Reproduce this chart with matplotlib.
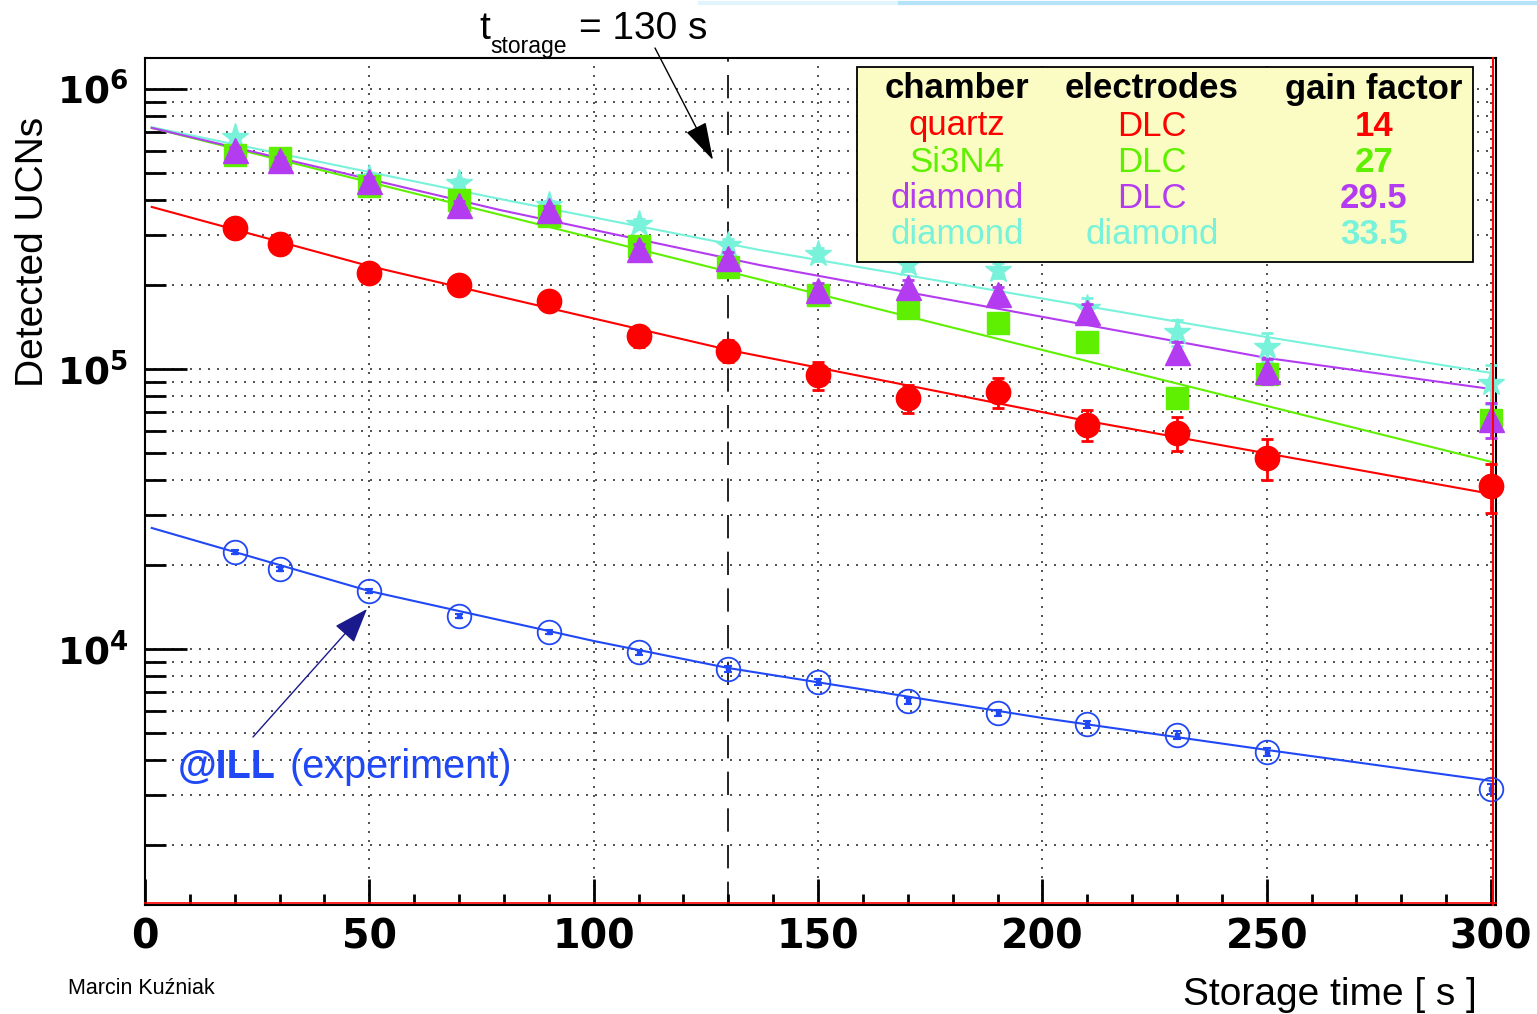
import matplotlib
matplotlib.use("Agg")
import matplotlib.pyplot as plt
from matplotlib.patches import Rectangle
from matplotlib.lines import Line2D
from matplotlib.ticker import LogLocator, NullFormatter, MultipleLocator

plt.rcParams['mathtext.fontset'] = 'dejavusans'

W, H = 1537, 1014

# storage times [s]
t = [20, 30, 50, 70, 90, 110, 130, 150, 170, 190, 210, 230, 250, 300]
t_cyan = [20, 50, 70, 90, 110, 130, 150, 170, 190, 210, 230, 250, 300]

# detected UCNs
quartz = [3.19e5, 2.79e5, 2.20e5, 2.00e5, 1.75e5, 1.31e5, 1.16e5, 9.5e4, 7.88e4, 8.27e4, 6.31e4, 5.91e4, 4.81e4, 3.82e4]
quartz_err = [8e3, 8e3, 9e3, 1.0e4, 1.0e4, 1.1e4, 1.05e4, 1.1e4, 9e3, 1.0e4, 8e3, 8e3, 8e3, 7.5e3]
si3n4 = [5.81e5, 5.67e5, 4.51e5, 4.02e5, 3.52e5, 2.75e5, 2.31e5, 1.84e5, 1.65e5, 1.46e5, 1.25e5, 7.87e4, 9.6e4, 6.58e4]
si3n4_err = [1.5e4, 1.5e4, 1.3e4, 1.2e4, 1.1e4, 9e3, 8e3, 7e3, 6e3, 6e3, 5e3, 4e3, 4e3, 3e3]
diamond_dlc = [6.05e5, 5.57e5, 4.69e5, 3.85e5, 3.70e5, 2.68e5, 2.49e5, 1.91e5, 1.96e5, 1.85e5, 1.60e5, 1.15e5, 9.84e4, 6.62e4]
diamond_dlc_err = [1.5e4, 1.5e4, 1.4e4, 1.3e4, 1.3e4, 1.2e4, 1.2e4, 1.1e4, 1.1e4, 1.1e4, 1.1e4, 1.0e4, 1.0e4, 9.5e3]
diamond_dia = [6.74e5, 4.81e5, 4.62e5, 3.85e5, 3.30e5, 2.77e5, 2.57e5, 2.37e5, 2.26e5, 1.65e5, 1.35e5, 1.20e5, 8.91e4]
diamond_dia_err = [1.6e4, 1.5e4, 1.5e4, 1.4e4, 1.4e4, 1.4e4, 1.4e4, 1.4e4, 1.4e4, 1.4e4, 1.4e4, 1.4e4, 1.4e4]
ill = [2.22e4, 1.93e4, 1.61e4, 1.31e4, 1.15e4, 9.75e3, 8.49e3, 7.63e3, 6.52e3, 5.91e3, 5.39e3, 4.93e3, 4.29e3, 3.16e3]
ill_err = [300, 300, 250, 230, 220, 200, 190, 180, 170, 160, 150, 150, 140, 130]

# fit curves
fit_t_red = [1.5, 50, 130, 210, 300]
fit_red = [3.79e5, 2.33e5, 1.17e5, 6.52e4, 3.58e4]
fit_t_green = [1.5, 300]
fit_green = [7.26e5, 4.66e4]
fit_t_purple = [1.5, 79, 137, 250, 300]
fit_purple = [7.26e5, 3.70e5, 2.35e5, 1.095e5, 8.48e4]
fit_t_cyan = [1.5, 79, 137, 250, 300]
fit_cyan = [7.3e5, 4.05e5, 2.66e5, 1.30e5, 9.68e4]
fit_t_blue = [1.5, 20, 50, 100, 130, 200, 250, 300]
fit_blue = [2.705e4, 2.22e4, 1.61e4, 1.068e4, 8.55e3, 5.67e3, 4.36e3, 3.38e3]

# legend table
chambers = ["quartz", "Si3N4", "diamond", "diamond"]
electrodes = ["DLC", "DLC", "DLC", "diamond"]
gains = ["14", "27", "29.5", "33.5"]

red = "#ff0000"
green = "#5ef000"
purple = "#b43cf0"
cyan = "#78f2da"
blue = "#2048f5"

fig = plt.figure(figsize=(W / 100, H / 100), dpi=100)
ax = fig.add_axes([145 / W, 109 / H, 1351 / W, 847 / H])
ax.set_yscale("log")
ax.set_xlim(0, 301.1)
ax.set_ylim(1218, 1.29e6)

# grid
dots = (0, (1.2, 4.2))
ax.grid(True, axis="y", which="both", color="#333333", lw=1.2, linestyle=dots)
ax.grid(True, axis="x", which="major", color="#333333", lw=1.2, linestyle=dots)

ax.axvline(130, color="black", lw=1.2, linestyle=(0, (14, 8)), zorder=2)

# fit lines
ax.plot(fit_t_cyan, fit_cyan, color=cyan, lw=1.5, zorder=3)
ax.plot(fit_t_green, fit_green, color=green, lw=1.5, zorder=3)
ax.plot(fit_t_purple, fit_purple, color=purple, lw=1.5, zorder=3)
ax.plot(fit_t_red, fit_red, color=red, lw=1.5, zorder=3)
ax.plot(fit_t_blue, fit_blue, color=blue, lw=1.5, zorder=3)

# data points
sets = [
    (t_cyan, diamond_dia, diamond_dia_err, "*", 20, cyan, 4),
    (t, si3n4, si3n4_err, "s", 16, green, 5),
    (t, diamond_dlc, diamond_dlc_err, "^", 18, purple, 6),
    (t, quartz, quartz_err, "o", 17.5, red, 7),
]
for xs, ys, es, mk, ms, col, z in sets:
    c = ax.errorbar(xs, ys, yerr=es, fmt=mk, ms=ms, color=col,
                    elinewidth=2, capsize=4, capthick=2, zorder=z)
    for art in c.get_children():
        art.set_clip_on(False)

ax.plot(t, ill, "o", mfc="none", mec=blue, ms=17, mew=1.3, zorder=6, clip_on=False)
c = ax.errorbar(t, ill, yerr=ill_err, fmt="s", ms=3.5, color=blue,
                elinewidth=1.5, capsize=3, capthick=1.5, zorder=6)
for art in c.get_children():
    art.set_clip_on(False)

# ticks
ax.set_xticks([0, 50, 100, 150, 200, 250, 300])
ax.set_xticklabels(["0", "50", "100", "150", "200", "250", "300"],
                   fontsize=28.5, fontweight="bold", family="DejaVu Sans")
ax.xaxis.set_minor_locator(MultipleLocator(10))
ax.set_yticks([1e4, 1e5, 1e6])
ax.set_yticklabels([r"$\mathbf{10^{4}}$", r"$\mathbf{10^{5}}$", r"$\mathbf{10^{6}}$"], fontsize=27)
ax.yaxis.set_minor_locator(LogLocator(base=10, subs=range(2, 10)))
ax.yaxis.set_minor_formatter(NullFormatter())
ax.tick_params(axis="x", which="major", direction="in", length=19, width=2, pad=9)
ax.tick_params(axis="x", which="minor", direction="in", length=8, width=2)
ax.tick_params(axis="y", which="major", direction="in", length=30, width=2, pad=12)
ax.tick_params(axis="y", which="minor", direction="in", length=15, width=2)

for s in ax.spines.values():
    s.set_color("black")
    s.set_linewidth(1.5)
ax.plot([0, 1], [0.002, 0.002], color=red, lw=1.2, transform=ax.transAxes, clip_on=False, zorder=8)
ax.plot([0.998, 0.998], [0, 1], color=red, lw=1.5, transform=ax.transAxes, clip_on=False, zorder=8)

# legend box
fig.add_artist(Rectangle((857 / W, 1 - 262 / H), 616 / W, 195 / H, transform=fig.transFigure,
                         facecolor="#fafcc4", edgecolor="black", lw=1.3, zorder=10))
cols = [957, 1152, 1374]
for x, txt in zip(cols, ["chamber", "electrodes", "gain factor"]):
    fig.text(x / W, 1 - 89 / H, txt, ha="center", va="center", fontsize=25,
             fontweight="bold", family="Liberation Sans", zorder=11)
row_colors = [red, green, purple, cyan]
for i in range(4):
    yy = 1 - (126 + 36.3 * i) / H
    fig.text(cols[0] / W, yy, chambers[i], ha="center", va="center", fontsize=25,
             color=row_colors[i], family="Liberation Sans", zorder=11)
    fig.text(cols[1] / W, yy, electrodes[i], ha="center", va="center", fontsize=25,
             color=row_colors[i], family="Liberation Sans", zorder=11)
    fig.text(cols[2] / W, yy, gains[i], ha="center", va="center", fontsize=25,
             color=row_colors[i], fontweight="bold", family="Liberation Sans", zorder=11)

# labels
fig.text(33 / W, 1 - 252 / H, "Detected UCNs", rotation=90, ha="center", va="center",
         fontsize=28, family="Liberation Sans")
fig.text(1183 / W, 1 - 1005 / H, "Storage time [ s ]", ha="left", va="baseline",
         fontsize=28, family="Liberation Sans")
fig.text(68 / W, 1 - 994 / H, "Marcin Kuźniak", ha="left", va="baseline",
         fontsize=15.5, family="Liberation Sans")

fig.text(479 / W, 1 - 39 / H, "t", ha="left", va="baseline", fontsize=28, family="Liberation Sans")
fig.text(490 / W, 1 - 53 / H, "storage", ha="left", va="baseline", fontsize=16.5, family="Liberation Sans")
fig.text(579 / W, 1 - 39 / H, "= 130 s", ha="left", va="baseline", fontsize=28, family="Liberation Sans")

fig.text(178 / W, 1 - 778 / H, "@ILL", ha="left", va="baseline", fontsize=28.5,
         fontweight="bold", color=blue, family="Liberation Sans")
fig.text(289 / W, 1 - 778 / H, "(experiment)", ha="left", va="baseline", fontsize=28.5,
         color=blue, family="Liberation Sans")

# arrows
ax.annotate("", xy=(713, H - 160), xycoords="figure pixels", xytext=(655, H - 48),
            textcoords="figure pixels",
            arrowprops=dict(arrowstyle="-|>,head_length=1.2,head_width=0.35", mutation_scale=20,
                            color="black", lw=1, shrinkA=0, shrinkB=0))
ax.annotate("", xy=(367, H - 609), xycoords="figure pixels", xytext=(253, H - 737),
            textcoords="figure pixels",
            arrowprops=dict(arrowstyle="-|>,head_length=1.1,head_width=0.4", mutation_scale=20,
                            color="#1a1a8c", lw=1, shrinkA=0, shrinkB=0))

# light blue strip at the top of the slide
fig.add_artist(Line2D([700 / W, 900 / W], [1 - 3 / H, 1 - 3 / H], color="#e2f4fc", lw=3))
fig.add_artist(Line2D([900 / W, 1], [1 - 3 / H, 1 - 3 / H], color="#b5e4fa", lw=3))

fig.savefig("out.png", dpi=100)
